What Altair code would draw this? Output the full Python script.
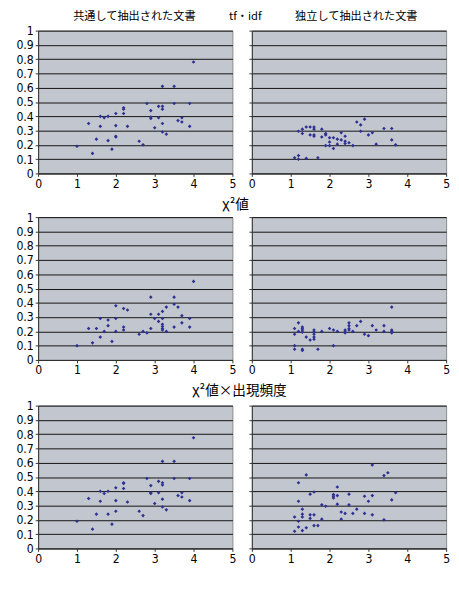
import altair as alt
import pandas as pd

# tf・idf — documents extracted in common
tfidf_common_x = [1.0, 1.3, 1.4, 1.5, 1.6, 1.6, 1.7, 1.8, 1.8, 1.9, 2.0, 2.0, 2.0, 2.0, 2.2, 2.2, 2.2, 2.3,
                  2.6, 2.7, 2.8, 2.9, 2.9, 2.9, 3.0, 3.1, 3.1, 3.2, 3.2, 3.2, 3.2, 3.2, 3.3, 3.5, 3.5,
                  3.6, 3.7, 3.7, 3.9, 3.9, 4.0]
tfidf_common_y = [0.19, 0.35, 0.14, 0.24, 0.40, 0.33, 0.39, 0.40, 0.23, 0.17, 0.42, 0.335, 0.26, 0.255, 0.46,
                  0.45, 0.42, 0.33, 0.225, 0.20, 0.49, 0.44, 0.395, 0.385, 0.32, 0.47, 0.39, 0.61, 0.47,
                  0.45, 0.35, 0.29, 0.275, 0.61, 0.49, 0.37, 0.39, 0.36, 0.49, 0.33, 0.78]

# tf・idf — documents extracted independently
tfidf_indep_x = [1.1, 1.2, 1.2, 1.2, 1.3, 1.3, 1.4, 1.4, 1.5, 1.5, 1.6, 1.6, 1.6, 1.6, 1.7, 1.8, 1.8, 1.9,
                 1.9, 1.9, 2.0, 2.0, 2.0, 2.1, 2.1, 2.2, 2.2, 2.3, 2.3, 2.4, 2.4, 2.4, 2.5, 2.6, 2.7,
                 2.8, 2.8, 2.9, 3.0, 3.1, 3.2, 3.4, 3.6, 3.6, 3.7]
tfidf_indep_y = [0.11, 0.125, 0.10, 0.295, 0.31, 0.28, 0.325, 0.105, 0.325, 0.27, 0.325, 0.31, 0.27, 0.26,
                 0.11, 0.31, 0.255, 0.28, 0.27, 0.195, 0.25, 0.22, 0.195, 0.25, 0.175, 0.24, 0.205,
                 0.285, 0.235, 0.26, 0.225, 0.21, 0.215, 0.195, 0.36, 0.34, 0.295, 0.38, 0.27, 0.285,
                 0.205, 0.315, 0.315, 0.235, 0.20]

# χ²値 — common
chi_common_x = [1.0, 1.3, 1.4, 1.5, 1.6, 1.6, 1.7, 1.8, 1.8, 1.9, 2.0, 2.0, 2.0, 2.2, 2.2, 2.2, 2.3, 2.6,
                2.7, 2.8, 2.9, 2.9, 2.9, 3.0, 3.1, 3.1, 3.2, 3.2, 3.2, 3.2, 3.2, 3.2, 3.3, 3.3, 3.5,
                3.5, 3.5, 3.6, 3.7, 3.7, 3.9, 3.9, 4.0]
chi_common_y = [0.10, 0.22, 0.12, 0.22, 0.29, 0.16, 0.20, 0.28, 0.24, 0.13, 0.38, 0.29, 0.20, 0.36, 0.23,
                0.21, 0.35, 0.18, 0.20, 0.19, 0.44, 0.32, 0.22, 0.29, 0.32, 0.27, 0.34, 0.29, 0.25,
                0.235, 0.22, 0.21, 0.37, 0.20, 0.44, 0.39, 0.23, 0.37, 0.31, 0.26, 0.29, 0.23, 0.55]

# χ²値 — independent
chi_indep_x = [1.1, 1.1, 1.1, 1.1, 1.2, 1.2, 1.3, 1.3, 1.3, 1.3, 1.3, 1.3, 1.4, 1.5, 1.6, 1.6, 1.6, 1.6,
               1.6, 1.7, 1.8, 2.0, 2.1, 2.1, 2.2, 2.4, 2.4, 2.4, 2.5, 2.5, 2.5, 2.5, 2.6, 2.7, 2.8,
               2.9, 3.0, 3.1, 3.2, 3.4, 3.4, 3.6, 3.6, 3.6, 3.6]
chi_indep_y = [0.22, 0.18, 0.10, 0.075, 0.26, 0.20, 0.23, 0.22, 0.21, 0.195, 0.075, 0.067, 0.16, 0.14,
               0.21, 0.195, 0.18, 0.16, 0.145, 0.075, 0.20, 0.22, 0.21, 0.10, 0.20, 0.21, 0.195, 0.19,
               0.26, 0.24, 0.22, 0.21, 0.20, 0.24, 0.27, 0.18, 0.17, 0.24, 0.21, 0.24, 0.20, 0.37,
               0.21, 0.20, 0.19]

# χ²値×出現頻度 — common
chifreq_common_x = [1.0, 1.3, 1.4, 1.5, 1.6, 1.6, 1.7, 1.8, 1.8, 1.9, 2.0, 2.0, 2.0, 2.2, 2.2, 2.2, 2.3,
                    2.6, 2.7, 2.8, 2.9, 2.9, 2.9, 3.0, 3.1, 3.1, 3.2, 3.2, 3.2, 3.2, 3.2, 3.3, 3.5,
                    3.5, 3.6, 3.7, 3.7, 3.9, 3.9, 4.0]
chifreq_common_y = [0.19, 0.35, 0.135, 0.24, 0.40, 0.33, 0.385, 0.40, 0.24, 0.17, 0.425, 0.335, 0.26,
                    0.46, 0.455, 0.42, 0.325, 0.26, 0.23, 0.49, 0.44, 0.39, 0.385, 0.315, 0.47, 0.39,
                    0.61, 0.46, 0.445, 0.345, 0.29, 0.27, 0.61, 0.49, 0.37, 0.39, 0.36, 0.49, 0.335,
                    0.775]

# χ²値×出現頻度 — independent
chifreq_indep_x = [1.1, 1.1, 1.2, 1.2, 1.2, 1.2, 1.3, 1.3, 1.3, 1.3, 1.4, 1.4, 1.5, 1.5, 1.5, 1.6, 1.6,
                   1.6, 1.7, 1.8, 1.8, 1.9, 2.1, 2.1, 2.1, 2.2, 2.2, 2.2, 2.3, 2.3, 2.4, 2.5, 2.5,
                   2.6, 2.7, 2.9, 2.9, 3.0, 3.1, 3.1, 3.1, 3.4, 3.4, 3.5, 3.6, 3.7]
chifreq_indep_y = [0.22, 0.12, 0.46, 0.33, 0.19, 0.15, 0.275, 0.24, 0.22, 0.125, 0.515, 0.145, 0.38,
                   0.235, 0.21, 0.395, 0.235, 0.16, 0.16, 0.305, 0.205, 0.295, 0.377, 0.366, 0.353,
                   0.43, 0.37, 0.31, 0.255, 0.205, 0.245, 0.38, 0.305, 0.245, 0.275, 0.365, 0.245,
                   0.33, 0.585, 0.37, 0.235, 0.51, 0.20, 0.53, 0.34, 0.39]

y_ticks = [0, 0.1, 0.2, 0.3, 0.4, 0.5, 0.6, 0.7, 0.8, 0.9, 1]
x_ticks = [0, 1, 2, 3, 4, 5]

row_titles = [
    "共通して抽出された文書\u3000\u3000\u3000tf・idf\u3000\u3000\u3000独立して抽出された文書",
    "χ²値",
    "χ²値×出現頻度",
]

LABEL_FONT = "Liberation Sans Narrow, DejaVu Sans Condensed, sans-serif"
TITLE_FONT = "Noto Sans CJK JP"
POINT_COLOR = "#2E3192"
VIEW = alt.ViewBackground(fill="#C2C6CE", stroke="#888888", strokeWidth=1)
PANEL_H = 147


def panel(xs, ys, left):
    df = pd.DataFrame({"x": xs, "y": ys})
    yaxis = alt.Axis(
        values=y_ticks, format="~g", labels=left, ticks=True, tickSize=3,
        grid=True, gridColor="#111111", gridWidth=1, gridOpacity=1,
        domainColor="#333333", tickColor="#333333", labelFontSize=12.5,
        labelFont=LABEL_FONT, labelColor="#000000", labelPadding=2,
        minExtent=25 if left else 3, maxExtent=25 if left else 3, title=None,
    )
    xaxis = alt.Axis(
        values=x_ticks, format="d", grid=False, ticks=True, tickSize=3,
        domainColor="#333333", tickColor="#333333", labelFontSize=12.5,
        labelFont=LABEL_FONT, labelColor="#000000", labelPadding=1, title=None,
        labelFlush=False,
    )
    return alt.Chart(df).mark_point(
        shape="diamond", filled=True, size=14, color=POINT_COLOR, opacity=1
    ).encode(
        x=alt.X("x:Q", scale=alt.Scale(domain=[0, 5], nice=False), axis=xaxis),
        y=alt.Y("y:Q", scale=alt.Scale(domain=[0, 1], nice=False), axis=yaxis),
    ).properties(width=200, height=PANEL_H, view=VIEW)


def row(lx, ly, rx, ry, title, size, offset, dx, dy):
    return alt.hconcat(
        panel(lx, ly, True),
        panel(rx, ry, False),
        spacing=10,
    ).properties(title=alt.TitleParams(title, fontSize=size, font=TITLE_FONT,
                                       fontWeight="normal", anchor="middle",
                                       offset=offset, dx=dx, dy=dy))


row1 = row(tfidf_common_x, tfidf_common_y, tfidf_indep_x, tfidf_indep_y, row_titles[0], 11.5, 2, 14, 0)
row2 = row(chi_common_x, chi_common_y, chi_indep_x, chi_indep_y, row_titles[1], 14, 1, 4, 2)
row3 = row(chifreq_common_x, chifreq_common_y, chifreq_indep_x, chifreq_indep_y, row_titles[2], 14, 2, 8, 1)

chart = alt.vconcat(row1, row2, row3, spacing=8).properties(
    padding={"left": 5, "top": -5, "right": 0, "bottom": 0}
)

chart.save("out.html", embed_options={"renderer": "svg", "actions": False})
